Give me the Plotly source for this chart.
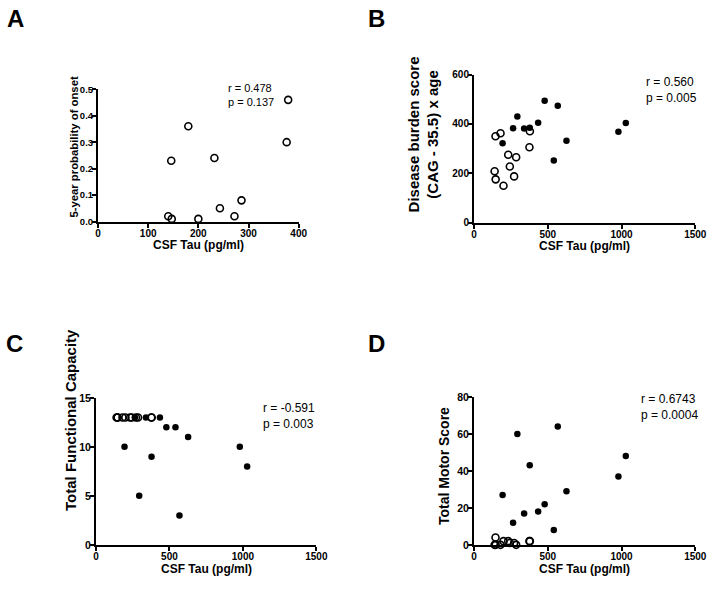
import plotly.graph_objects as go

# ---- data ----
pre_tau = [140, 146, 147, 180, 200, 232, 243, 272, 286, 376, 379]
pre_onset_prob = [0.02, 0.23, 0.01, 0.36, 0.01, 0.24, 0.05, 0.02, 0.08, 0.30, 0.46]
pre_dbs = [208, 350, 175, 362, 149, 275, 227, 187, 265, 305, 370]
pre_tfc = [13, 13, 13, 13, 13, 13, 13, 13, 13, 13, 13]
pre_tms = [0, 4, 0, 0, 2, 2, 1, 1, 0, 2, 2]

man_tau = [194, 265, 294, 340, 378, 435, 479, 541, 568, 627, 979, 1029]
man_dbs = [321, 382, 430, 381, 384, 405, 494, 252, 474, 332, 368, 404]
man_tfc = [10, 13, 5, 13, 9, 13, 12, 12, 3, 11, 10, 8]
man_tms = [27, 12, 60, 17, 43, 18, 22, 8, 64, 29, 37, 48]

panel_letters = ["A", "B", "C", "D"]
y_titles = ["5-year probability of onset",
            "Disease burden score<br>(CAG - 35.5) x age",
            "Total Functional Capacity",
            "Total Motor Score"]
x_title = "CSF Tau (pg/ml)"
stats = [("r = 0.478", "p = 0.137"), ("r = 0.560", "p = 0.005"),
         ("r = -0.591", "p = 0.003"), ("r = 0.6743", "p = 0.0004")]

W, H = 720, 591
FONT = "Liberation Sans, Arial, sans-serif"

def px(x):
    return x / W

def py(y):
    return 1 - y / H

fig = go.Figure()

open_m = dict(symbol="circle-open", size=7, color="black", line=dict(width=1.6, color="black"))
fill_m = dict(symbol="circle", size=6.5, color="black")

fig.add_trace(go.Scatter(x=pre_tau, y=pre_onset_prob, mode="markers", marker=open_m,
                         xaxis="x", yaxis="y", cliponaxis=False))
fig.add_trace(go.Scatter(x=man_tau, y=man_dbs, mode="markers", marker=fill_m,
                         xaxis="x2", yaxis="y2", cliponaxis=False))
fig.add_trace(go.Scatter(x=pre_tau, y=pre_dbs, mode="markers", marker=open_m,
                         xaxis="x2", yaxis="y2", cliponaxis=False))
fig.add_trace(go.Scatter(x=man_tau, y=man_tfc, mode="markers", marker=fill_m,
                         xaxis="x3", yaxis="y3", cliponaxis=False))
fig.add_trace(go.Scatter(x=pre_tau, y=pre_tfc, mode="markers", marker=open_m,
                         xaxis="x3", yaxis="y3", cliponaxis=False))
fig.add_trace(go.Scatter(x=man_tau, y=man_tms, mode="markers", marker=fill_m,
                         xaxis="x4", yaxis="y4", cliponaxis=False))
fig.add_trace(go.Scatter(x=pre_tau, y=pre_tms, mode="markers", marker=open_m,
                         xaxis="x4", yaxis="y4", cliponaxis=False))

axis_common = dict(showline=True, linewidth=2, linecolor="black", ticks="outside",
                   ticklen=4, tickwidth=2, tickcolor="black", showgrid=False,
                   zeroline=False, mirror=False, ticklabelstandoff=-3)

# plot areas in pixels: (x0, x1, ytop, ybottom)
boxes = [(97, 302, 85, 220), (481, 707, 70, 221), (95, 320, 400, 550), (481, 707, 399, 550)]
xranges = [[0, 400], [0, 1500], [0, 1500], [0, 1500]]
xdt = [100, 500, 500, 500]
yranges = [[0, 0.5], [0, 600], [0, 15], [0, 80]]
ydt = [0.1, 200, 5, 20]
yfmt = [".1f", "", "", ""]
xtick_sizes = [10, 10, 10, 10]
ytick_sizes = [9.5, 10, 10.5, 10.5]

layout = dict(width=W, height=H, margin=dict(l=0, r=0, t=0, b=0),
              plot_bgcolor="white", paper_bgcolor="white", showlegend=False,
              font=dict(family=FONT, color="black"))
for i, (b, xr, xd, yr, yd, yf, xs, ys) in enumerate(
        zip(boxes, xranges, xdt, yranges, ydt, yfmt, xtick_sizes, ytick_sizes)):
    sfx = "" if i == 0 else str(i + 1)
    layout["xaxis" + sfx] = dict(axis_common, domain=[px(b[0]), px(b[1])], range=xr,
                                 dtick=xd, tick0=0, anchor="y" + sfx,
                                 tickfont=dict(family=FONT, size=xs, color="black", weight="bold"))
    layout["yaxis" + sfx] = dict(axis_common, domain=[py(b[3]), py(b[2])], range=yr,
                                 dtick=yd, tick0=0, tickformat=yf, anchor="x" + sfx,
                                 tickfont=dict(family=FONT, size=ys, color="black", weight="bold"))
fig.update_layout(**layout)

ann = []
letter_pos = [(12.5, 13), (381.5, 13), (12, 344), (381.5, 344)]
for L, (lx, ly) in zip(panel_letters, letter_pos):
    ann.append(dict(text=L, x=px(lx), y=py(ly), xref="paper", yref="paper", showarrow=False,
                    xanchor="center", yanchor="middle",
                    font=dict(family=FONT, size=24, color="black", weight="bold")))
ytitle_pos = [(73, 144, 11.3), (429, 131, 15), (69, 423, 15), (451, 470, 14)]
for t, (tx, ty, fs) in zip(y_titles, ytitle_pos):
    ann.append(dict(text=t, x=px(tx), y=py(ty), xref="paper", yref="paper", showarrow=False,
                    textangle=-90, xanchor="center", yanchor="middle",
                    font=dict(family=FONT, size=fs, color="black", weight="bold")))
xtitle_pos = [(199.5, 244), (594, 245), (207.5, 575), (594, 575)]
for (tx, ty) in xtitle_pos:
    ann.append(dict(text=x_title, x=px(tx), y=py(ty), xref="paper", yref="paper", showarrow=False,
                    xanchor="center", yanchor="middle",
                    font=dict(family=FONT, size=12, color="black", weight="bold")))
stat_pos = [(228, 88, 11), (655, 80, 12), (263, 413, 12), (650, 404, 12)]
for (r, p), (sx, sy, fs) in zip(stats, stat_pos):
    ann.append(dict(text=r + "<br>" + p, x=px(sx), y=py(sy - 12), xref="paper", yref="paper",
                    showarrow=False, xanchor="left", yanchor="top", align="left",
                    font=dict(family=FONT, size=fs, color="black")))
fig.update_layout(annotations=ann)

fig.write_html("out.html", config={"displayModeBar": False},
               post_script=("document.documentElement.style.margin='0';"
                            "document.documentElement.style.overflow='hidden';"
                            "document.body.style.margin='0';document.body.style.padding='0';"
                            "document.body.style.overflow='hidden';"))
